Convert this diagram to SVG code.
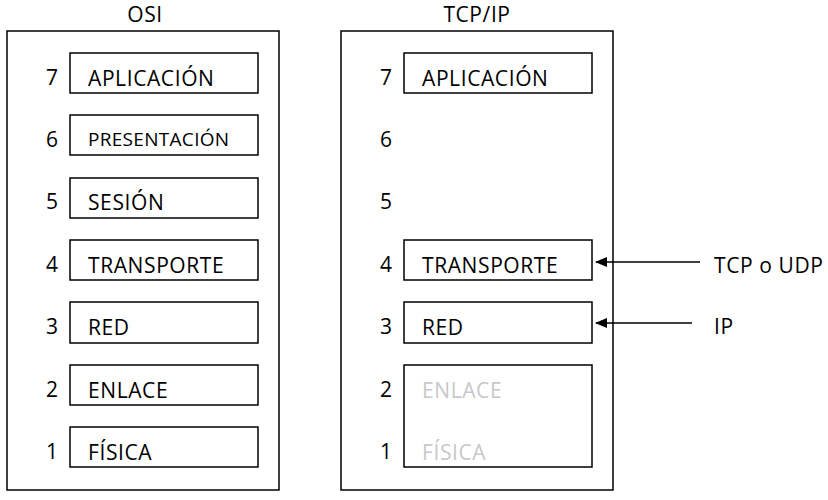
<svg xmlns="http://www.w3.org/2000/svg" width="828" height="500" viewBox="0 0 828 500">
<defs><marker id="ah" markerWidth="12" markerHeight="10" refX="11" refY="5" orient="auto" markerUnits="userSpaceOnUse"><path d="M0,0 L12,5 L0,10 Z" fill="#000"/></marker></defs>
<style>
text{font-family:"Open Sans","Liberation Sans",sans-serif;font-size:21px;letter-spacing:0.6px;fill:#000}
.b{fill:#fff;stroke:#000;stroke-width:1.5}
.g{fill:#c8c8c8}
.s{font-size:19px;letter-spacing:0.3px}
</style>
<rect width="828" height="500" fill="#fff"/>
<g id="osi">
<text x="145" y="22" text-anchor="middle">OSI</text>
<rect class="b" x="7" y="31" width="272" height="459"/>
<rect class="b" x="70" y="53" width="188" height="40"/><text x="46" y="85">7</text><text x="88" y="86">APLICACIÓN</text>
<rect class="b" x="70" y="115" width="188" height="40"/><text x="46" y="147">6</text><text class="s" x="88" y="146">PRESENTACIÓN</text>
<rect class="b" x="70" y="178" width="188" height="40"/><text x="46" y="209">5</text><text x="88" y="210">SESIÓN</text>
<rect class="b" x="70" y="240" width="188" height="40"/><text x="46" y="272">4</text><text x="88" y="273">TRANSPORTE</text>
<rect class="b" x="70" y="302" width="188" height="41"/><text x="46" y="334">3</text><text x="88" y="335">RED</text>
<rect class="b" x="70" y="365" width="188" height="40"/><text x="46" y="397">2</text><text x="88" y="398">ENLACE</text>
<rect class="b" x="70" y="427" width="188" height="40"/><text x="46" y="459">1</text><text x="88" y="460">FÍSICA</text>
</g>
<g id="tcpip">
<text x="477" y="22" text-anchor="middle">TCP/IP</text>
<rect class="b" x="341" y="31" width="272" height="459"/>
<rect class="b" x="404" y="53" width="188" height="40"/><text x="380" y="85">7</text><text x="422" y="86">APLICACIÓN</text>
<text x="380" y="147">6</text>
<text x="380" y="209">5</text>
<rect class="b" x="404" y="240" width="188" height="40"/><text x="380" y="272">4</text><text x="422" y="273">TRANSPORTE</text>
<rect class="b" x="404" y="302" width="188" height="41"/><text x="380" y="334">3</text><text x="422" y="335">RED</text>
<rect class="b" x="404" y="365" width="188" height="102"/><text x="380" y="397">2</text><text class="g" x="422" y="398">ENLACE</text>
<text x="380" y="459">1</text><text class="g" x="422" y="460">FÍSICA</text>
</g>
<g id="connectors" stroke="#000" stroke-width="1.5">
<line x1="700" y1="262" x2="596" y2="262" marker-end="url(#ah)"/>
<line x1="692" y1="323" x2="596" y2="323" marker-end="url(#ah)"/>
</g>
<g id="labels">
<text x="714" y="273">TCP o UDP</text>
<text x="714" y="334">IP</text>
</g>
</svg>
